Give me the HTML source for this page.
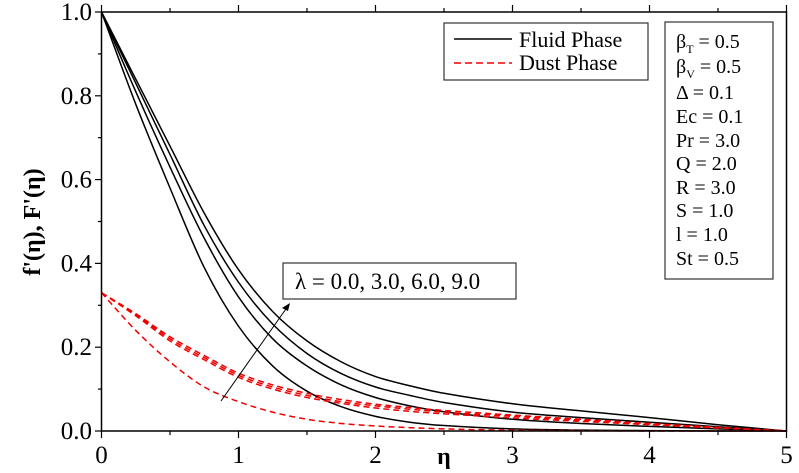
<!DOCTYPE html>
<html><head><meta charset="utf-8"><style>
body{margin:0;background:#fff}
svg{display:block;font-family:"Liberation Serif","DejaVu Serif",serif}
</style></head><body>
<svg id="chart" width="799" height="473" viewBox="0 0 799 473" xmlns="http://www.w3.org/2000/svg">
<g id="plot"></g>
<g id="axes"></g>
<text x="0" y="0" transform="translate(40,222) rotate(-90)" text-anchor="middle" font-size="24" font-weight="bold">f'(η), F'(η)</text>
<text x="444" y="464" text-anchor="middle" font-size="24" font-weight="bold">η</text>
<g>
<rect x="444" y="23" width="204" height="57" fill="#fff" stroke="#333" stroke-width="1.2"/>
<g><line x1="454" y1="39" x2="512" y2="39" stroke="#000" stroke-width="1.5"/><text x="519" y="47" font-size="22">Fluid Phase</text></g>
<g><line x1="454" y1="63" x2="512" y2="63" stroke="#e00" stroke-width="1.5" stroke-dasharray="7,4"/><text x="519" y="70" font-size="22">Dust Phase</text></g>
</g>
<g font-size="20">
<rect x="665" y="22" width="108" height="257" fill="#fff" stroke="#333" stroke-width="1.2"/>
<text x="676" y="48">β<tspan font-size="12" dy="5">T</tspan><tspan dy="-5"> = 0.5</tspan></text>
<text x="676" y="73">β<tspan font-size="12" dy="5">V</tspan><tspan dy="-5"> = 0.5</tspan></text>
<text x="676" y="99">Δ = 0.1</text>
<text x="676" y="123">Ec = 0.1</text>
<text x="676" y="147">Pr = 3.0</text>
<text x="676" y="170">Q = 2.0</text>
<text x="676" y="194">R = 3.0</text>
<text x="676" y="217">S = 1.0</text>
<text x="676" y="241">l = 1.0</text>
<text x="676" y="265">St = 0.5</text>
</g>
<g>
<rect x="283" y="263" width="233" height="36" fill="#fff" stroke="#333" stroke-width="1.2"/>
<text x="295" y="289" font-size="23">λ = 0.0, 3.0, 6.0, 9.0</text>
<line x1="221" y1="401" x2="288" y2="306" stroke="#000" stroke-width="1"/>
<polygon points="290,303 282,308 288,311" fill="#000"/>
</g>
</svg>
<script>
const etas=[0,0.25,0.5,0.75,1,1.25,1.5,1.75,2,2.25,2.5,3,3.5,4,4.5,5];
const fluid0=[1,.78,.58,.39,.25,.155,.095,.058,.035,.021,.013,.005,.002,.001,0,0];
const fluid3=[1,.81,.63,.46,.32,.22,.155,.11,.08,.06,.046,.028,.018,.011,.005,0];
const fluid6=[1,.83,.66,.49,.355,.255,.185,.137,.105,.085,.068,.045,.032,.021,.01,0];
const fluid9=[1,.84,.68,.52,.385,.285,.215,.165,.13,.108,.09,.065,.048,.032,.015,0];
const dust0=[.33,.24,.165,.105,.07,.045,.028,.018,.012,.008,.005,.002,.001,0,0,0];
const dust3=[.33,.275,.215,.17,.128,.1,.08,.066,.055,.047,.041,.031,.023,.015,.007,0];
const dust6=[.33,.278,.22,.175,.133,.105,.085,.07,.06,.052,.045,.035,.026,.016,.008,0];
const dust9=[.33,.28,.225,.18,.138,.11,.09,.075,.064,.056,.049,.038,.028,.018,.009,0];
const xTicks=[0,1,2,3,4,5];
const yTicks=[0,0.2,0.4,0.6,0.8,1.0];
const xScale=v=>101.5+v*(786.5-101.5)/5;
const yScale=v=>431-v*(431-12);
const NS="http://www.w3.org/2000/svg";
const plot=document.getElementById('plot'),axes=document.getElementById('axes');
function mk(t,a,p){const e=document.createElementNS(NS,t);for(const k in a)e.setAttribute(k,a[k]);p.appendChild(e);return e;}
function smooth(vals){
  const n=etas.length,m=[];
  for(let i=0;i<n;i++){
    const a=Math.max(0,i-1),b=Math.min(n-1,i+1);
    m.push((vals[b]-vals[a])/(etas[b]-etas[a]));
  }
  let d='M'+xScale(etas[0])+','+yScale(vals[0]);
  for(let i=0;i<n-1;i++){
    const h=etas[i+1]-etas[i];
    const c1x=etas[i]+h/3,c1y=vals[i]+m[i]*h/3,c2x=etas[i+1]-h/3,c2y=vals[i+1]-m[i+1]*h/3;
    d+=` C${xScale(c1x)},${yScale(c1y)} ${xScale(c2x)},${yScale(c2y)} ${xScale(etas[i+1])},${yScale(vals[i+1])}`;
  }
  return d;
}
[[fluid0,'fluid-line-lambda-0'],[fluid3,'fluid-line-lambda-3'],[fluid6,'fluid-line-lambda-6'],[fluid9,'fluid-line-lambda-9']].forEach(([s,n])=>{
  const p=mk('path',{d:smooth(s),fill:'none',stroke:'#000','stroke-width':1.5},plot);
  
  
});
[[dust0,'dust-line-lambda-0'],[dust3,'dust-line-lambda-3'],[dust6,'dust-line-lambda-6'],[dust9,'dust-line-lambda-9']].forEach(([s,n])=>{
  const p=mk('path',{d:smooth(s),fill:'none',stroke:'#e00','stroke-width':1.5,'stroke-dasharray':'6,4'},plot);
  
  
});
const frame=mk('rect',{x:101.5,y:12,width:685,height:419,fill:'none',stroke:'#000','stroke-width':1.5},axes);


for(let v=0;v<=5.001;v+=0.5){
  const x=xScale(v),big=Math.abs(v-Math.round(v))<1e-6;
  mk('line',{x1:x,y1:431,x2:x,y2:big?438:435,stroke:'#000','stroke-width':1.2},axes);
  mk('line',{x1:x,y1:12,x2:x,y2:big?5:8,stroke:'#000','stroke-width':1.2},axes);
}
for(let v=0;v<=1.001;v+=0.1){
  const y=yScale(v),big=Math.round(v*10)%2===0;
  mk('line',{x1:101.5,y1:y,x2:big?95:98,y2:y,stroke:'#000','stroke-width':1.2},axes);
}
xTicks.forEach(v=>{
  const t=mk('text',{x:xScale(v),y:463,'text-anchor':'middle','font-size':25},axes);
  t.textContent=v;
  
  
});
yTicks.forEach(v=>{
  const t=mk('text',{x:92,y:yScale(v)+8,'text-anchor':'end','font-size':25},axes);
  t.textContent=v.toFixed(1);
  
  
});
</script>
</body></html>
